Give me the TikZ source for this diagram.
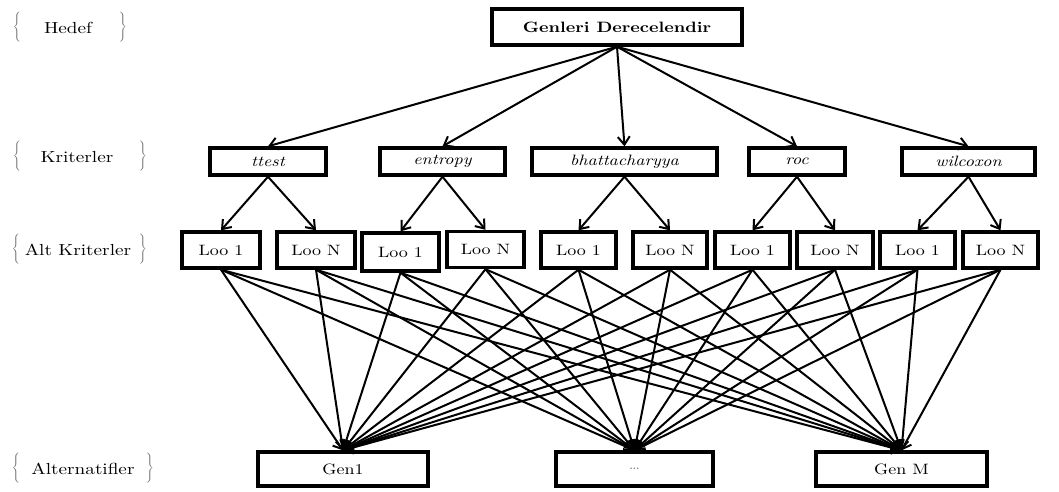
\documentclass[tikz,border=0pt]{standalone}
\usepackage{fontspec}
\setmainfont{lmroman10-regular.otf}[BoldFont=lmroman10-bold.otf,ItalicFont=lmroman10-italic.otf,BoldItalicFont=lmroman10-bolditalic.otf,FakeStretch=1.2]
\usetikzlibrary{arrows.meta}
\newcommand\fsz[1]{\fontsize{#1}{#1}\selectfont}
\begin{document}
\begin{tikzpicture}[x=1pt,y=-1pt,
  box/.style={draw, line width=3.4pt, inner sep=0pt, font=\fsz{15}},
  topbox/.style={box, minimum width=250pt, minimum height=36pt, font=\fsz{15}\bfseries},
  critbox/.style={box, minimum height=27pt, font=\fsz{15}\itshape},
  altbox/.style={box, minimum height=36pt},
  genbox/.style={box, minimum height=34pt},
  arr/.style={line width=2pt, -{Straight Barb[length=8pt,width=12pt]}},
  lbl/.style={font=\fsz{16}, inner sep=0pt},
  brc/.style={text=gray!85!black, font=\fontsize{11}{12.5}\selectfont, inner sep=0pt}]
\useasboundingbox (0,0) rectangle (1059,491);
% left labels
\node[brc] (bl1) at (17,27) {$\Bigg\{$};
\node[lbl] (l1) at (68,28) {Hedef};
\node[brc] (br1) at (123,27) {$\Bigg\}$};
\node[brc] (bl2) at (17,156) {$\Bigg\{$};
\node[lbl] (l2) at (77,157) {Kriterler};
\node[brc] (br2) at (143,156) {$\Bigg\}$};
\node[brc] (bl3) at (16,249) {$\Bigg\{$};
\node[lbl] (l3) at (78,250) {Alt Kriterler};
\node[brc] (br3) at (143,249) {$\Bigg\}$};
\node[brc] (bl4) at (16,468) {$\Bigg\{$};
\node[lbl] (l4) at (83,469) {Alternatifler};
\node[brc] (br4) at (150,468) {$\Bigg\}$};
% goal
\node[topbox] (top) at (617,27) {Genleri Derecelendir};
% criteria
\node[critbox, minimum width=116pt] (c1) at (268,161.5) {ttest};
\node[critbox, minimum width=125pt] (c2) at (442.5,161.5) {entropy};
\node[critbox, minimum width=185pt] (c3) at (624.5,161.5) {bhattacharyya};
\node[critbox, minimum width=96pt] (c4) at (797,161.5) {roc};
\node[critbox, minimum width=133pt] (c5) at (968.5,161.5) {wilcoxon};
% sub-criteria
\node[altbox, minimum width=78pt] (a1) at (221,250) {Loo 1};
\node[altbox, minimum width=78pt] (a2) at (316,250) {Loo N};
\node[altbox, minimum width=77pt, minimum height=38pt] (a3) at (400.5,252) {Loo 1};
\node[altbox, minimum width=77pt] (a4) at (485.5,249.5) {Loo N};
\node[altbox, minimum width=75pt] (a5) at (578.5,250) {Loo 1};
\node[altbox, minimum width=74pt] (a6) at (670,250) {Loo N};
\node[altbox, minimum width=75pt] (a7) at (752.5,250) {Loo 1};
\node[altbox, minimum width=76pt] (a8) at (835,250) {Loo N};
\node[altbox, minimum width=75pt] (a9) at (917.5,250) {Loo 1};
\node[altbox, minimum width=75pt] (a10) at (1000.5,250) {Loo N};
% alternatives
\node[genbox, minimum width=170pt] (g1) at (343,469) {Gen1};
\node[genbox, minimum width=157pt, text=gray, font=\fsz{14}] (g2) at (634.5,469) {\ldots};
\node[genbox, minimum width=171pt] (g3) at (901.5,469) {Gen M};
% connectors
\foreach \c in {c1,c2,c3,c4,c5} \draw[arr] (top.south) -- (\c.north);
\foreach \c/\a/\b in {c1/a1/a2, c2/a3/a4, c3/a5/a6, c4/a7/a8, c5/a9/a10} {
  \draw[arr] (\c.south) -- (\a.north);
  \draw[arr] (\c.south) -- (\b.north);
}
\foreach \a in {a1,a2,a3,a4,a5,a6,a7,a8,a9,a10}
  \foreach \g in {g1,g2,g3}
    \draw[arr] (\a.south) -- (\g.north);
\end{tikzpicture}
\end{document}
